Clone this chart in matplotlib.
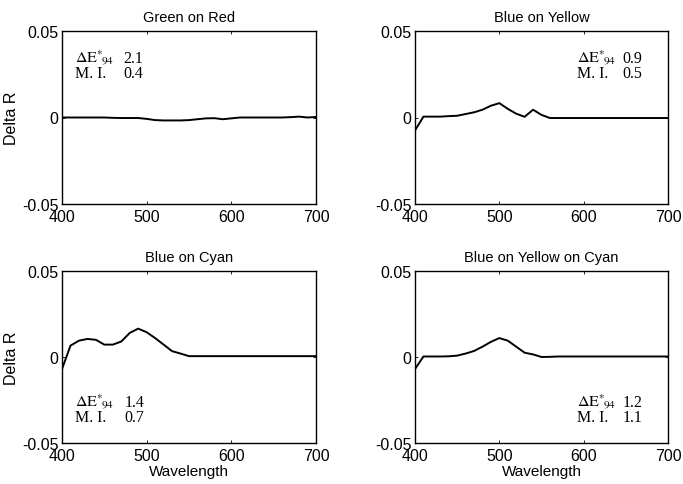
import numpy as np
import matplotlib
matplotlib.use("Agg")
import matplotlib.pyplot as plt

plt.rcParams['font.family'] = ['Liberation Sans', 'DejaVu Sans']
plt.rcParams['mathtext.fontset'] = 'stix'

wavelength = list(range(400, 701, 10))

green_on_red = [0.0, 0.0, 0.0, 0.0, 0.0, 0.0, -0.0002, -0.0003, -0.0003, -0.0003,
                -0.0008, -0.0015, -0.0017, -0.0017, -0.0017, -0.0015, -0.0010, -0.0005,
                -0.0004, -0.0010, -0.0005, 0.0, 0.0, 0.0, 0.0, 0.0, 0.0, 0.0002,
                0.0005, 0.0, 0.0003]

blue_on_yellow = [-0.0075, 0.0005, 0.0005, 0.0005, 0.0008, 0.0010, 0.0020, 0.0030,
                  0.0045, 0.0068, 0.0083, 0.0050, 0.0022, 0.0004, 0.0045, 0.0015,
                  -0.0003, -0.0003, -0.0003, -0.0003, -0.0003, -0.0003, -0.0003,
                  -0.0003, -0.0003, -0.0003, -0.0003, -0.0003, -0.0003, -0.0003,
                  -0.0003]

blue_on_cyan = [-0.0070, 0.0066, 0.0095, 0.0105, 0.0100, 0.0072, 0.0072, 0.0090,
                0.0140, 0.0165, 0.0144, 0.0110, 0.0072, 0.0034, 0.0020, 0.0005,
                0.0005, 0.0005, 0.0005, 0.0005, 0.0005, 0.0005, 0.0005, 0.0005,
                0.0005, 0.0005, 0.0005, 0.0005, 0.0005, 0.0005, 0.0005]

blue_on_yellow_on_cyan = [-0.0070, 0.0003, 0.0003, 0.0003, 0.0004, 0.0008, 0.0020,
                          0.0035, 0.0060, 0.0088, 0.0110, 0.0095, 0.0060, 0.0025,
                          0.0015, 0.0000, 0.0001, 0.0003, 0.0003, 0.0003, 0.0003,
                          0.0003, 0.0003, 0.0003, 0.0003, 0.0003, 0.0003, 0.0003,
                          0.0003, 0.0003, 0.0003]

titles = ["Green on Red", "Blue on Yellow", "Blue on Cyan", "Blue on Yellow on Cyan"]
series = [green_on_red, blue_on_yellow, blue_on_cyan, blue_on_yellow_on_cyan]
delta_e94 = ["2.1", "0.9", "1.4", "1.2"]
metamerism_index = ["0.4", "0.5", "0.7", "1.1"]

W, H = 683, 485
fig = plt.figure(figsize=(W / 100, H / 100), dpi=100)

# axes boxes in pixels: (left, top, right, bottom)
boxes = [(62, 32, 316, 205), (415, 32, 668, 205),
         (62, 272, 316, 444), (415, 272, 668, 444)]
# annotation anchors: (x of label, x of value, baseline of row 1, baseline of row 2)
notes = [(415, 472, 0.0321, 0.0234), (592, 646, 0.0321, 0.0234),
         (415, 474, -0.0285, -0.0372), (592, 646, -0.0285, -0.0372)]

serif = ['Liberation Serif', 'DejaVu Serif']

for i, (l, t, r, b) in enumerate(boxes):
    ax = fig.add_axes([l / W, 1 - b / H, (r - l) / W, (b - t) / H])
    ax.plot(wavelength, series[i], color='black', lw=1.4)
    ax.set_xlim(400, 700)
    ax.set_ylim(-0.05, 0.05)
    ax.set_xticks([400, 500, 600, 700])
    ax.set_yticks([-0.05, 0, 0.05])
    ax.set_yticklabels(['-0.05', '0', '0.05'])
    ax.tick_params(direction='in', length=2, width=0.6, labelsize=11.5,
                   top=True, right=True)
    ax.tick_params(axis='x', pad=3.5)
    ax.tick_params(axis='y', pad=2.5)
    for s in ax.spines.values():
        s.set_linewidth(1.0)
    ax.set_title(titles[i], fontsize=10.5, pad=7)
    if i % 2 == 0:
        ax.set_ylabel("Delta R", fontsize=11.5, va='center')
        ax.yaxis.set_label_coords(-(l - 12) / (r - l), 0.5)
    if i >= 2:
        ax.set_xlabel("Wavelength", fontsize=11, va='center')
        ax.xaxis.set_label_coords(0.5, -(472 - b) / (b - t))
    xl, xv, y1, y2 = notes[i]
    ax.text(xl, y1, r'$\Delta\mathrm{E}^{*}\!{}_{94}$', family=serif,
            fontsize=11.5, va='baseline', ha='left')
    ax.text(xv, y1, delta_e94[i], family=serif,
            fontsize=11.5, va='baseline', ha='left')
    ax.text(xl, y2, 'M. I.', family=serif,
            fontsize=11.5, va='baseline', ha='left')
    ax.text(xv, y2, metamerism_index[i], family=serif,
            fontsize=11.5, va='baseline', ha='left')

fig.savefig("out.png", dpi=100, facecolor='white')
